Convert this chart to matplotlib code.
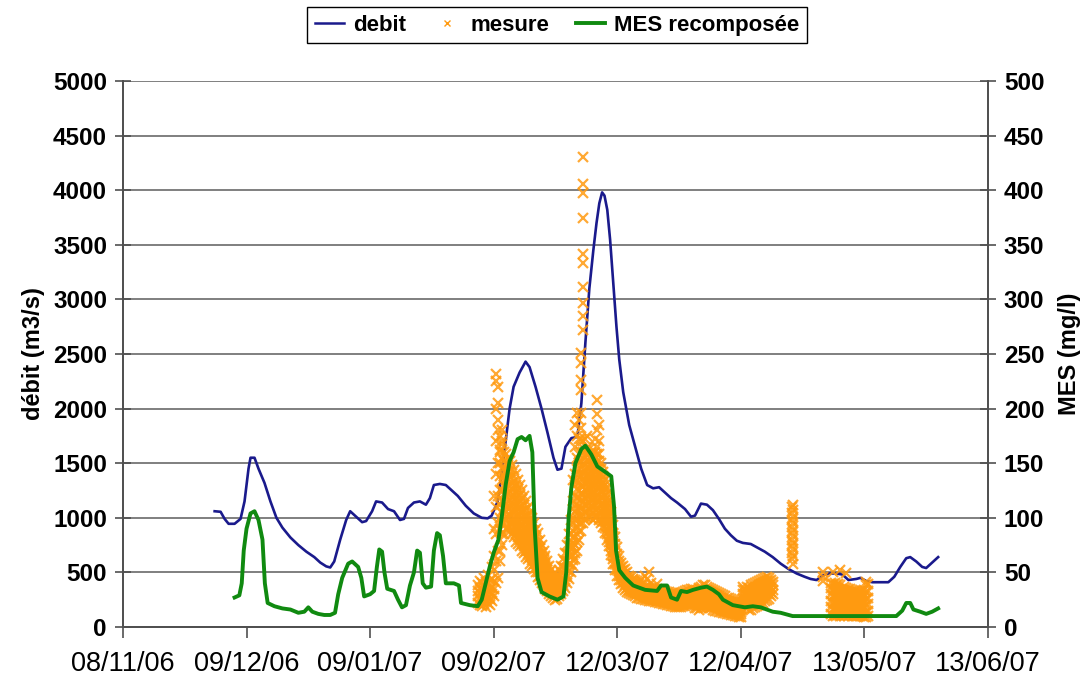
import datetime as dt
import matplotlib
matplotlib.use("Agg")
import matplotlib.pyplot as plt
import matplotlib.dates as mdates
from matplotlib.lines import Line2D

plt.rcParams['font.family'] = ['Liberation Sans', 'DejaVu Sans']

# Origin of the time axis; every series is given in days after it
debut = dt.datetime(2006, 11, 8)
tick_jours = [0, 31, 62, 93, 124, 155, 186, 217]

# Discharge (m3/s)
debit_jours = [23, 24.5, 25.5, 26.5, 28, 29.5, 30.5, 31.5, 32, 33, 34, 35.5, 37, 38.5, 40, 42, 44, 46,
               48, 49.5, 51, 52, 53, 54.5, 56, 57, 58.5, 60, 61, 62.5, 63.5, 65, 66.5, 68, 69.5, 70.5,
               71.5, 73, 74.5, 76, 77, 78, 79.5, 81, 82.5, 84, 86, 88, 90, 91.5, 92.5, 94, 95, 96, 97,
               98, 99.5, 101, 102, 103.5, 105, 106.5, 108, 109, 110, 111, 112.5, 114, 115, 116, 117,
               118, 118.8, 119.5, 120.2, 120.8, 121.5, 122.2, 123, 123.8, 124.5, 125.5, 127, 128.5,
               130, 131.5, 133, 134.5, 136, 137.5, 139, 141, 142.5, 143.5, 145, 146.5, 148, 149.5,
               151, 152.5, 154, 155.5, 157.5, 159.5, 161, 163, 165, 167, 169, 171, 172.5, 174, 175.5,
               177, 179, 180.5, 182, 184, 185, 186.5, 188, 190, 192, 193.5, 195, 196.5, 197.5, 199,
               200.5, 201.5, 203, 204.5]
debit_valeurs = [1060, 1055, 990, 945, 945, 990, 1150, 1450, 1550, 1550, 1450, 1320, 1150, 1000, 910,
                 820, 750, 690, 640, 590, 555, 545, 600, 800, 980, 1060, 1010, 960, 970, 1060, 1150,
                 1140, 1080, 1060, 980, 990, 1090, 1140, 1150, 1120, 1180, 1300, 1310, 1300, 1250,
                 1200, 1110, 1040, 1000, 995, 1020, 1150, 1400, 1700, 2000, 2200, 2330, 2430, 2380,
                 2200, 2000, 1780, 1550, 1440, 1450, 1650, 1730, 1740, 2050, 2600, 3100, 3450, 3700,
                 3880, 3980, 3950, 3820, 3550, 3150, 2750, 2450, 2150, 1850, 1650, 1450, 1300, 1270,
                 1280, 1230, 1180, 1140, 1080, 1010, 1020, 1130, 1120, 1070, 990, 900, 840, 790, 770,
                 760, 720, 690, 640, 580, 530, 490, 460, 440, 430, 470, 490, 490, 480, 430, 440, 450,
                 420, 410, 410, 410, 460, 550, 630, 640, 600, 550, 540, 590, 640]

# Reconstructed suspended matter (mg/l)
mes_jours = [28, 29.2, 29.8, 30.3, 31, 32, 33, 34, 35, 35.6, 36.3, 38, 40, 42, 44, 45.5, 46.5, 47.5, 49,
             50.5, 52, 53.2, 54, 55, 56.5, 57.5, 59, 59.8, 60.5, 62, 63, 63.7, 64.3, 65, 65.6, 66.3,
             68, 69, 70, 71, 72, 73, 73.8, 74.5, 75.2, 76, 77.3, 78, 78.8, 79.5, 80.3, 81, 83, 84.3,
             84.8, 87, 89, 90, 91, 92, 93, 94.2, 95, 96, 97, 98, 99, 100, 101, 102, 102.7, 103.3, 104,
             105, 107, 109, 110.5, 111.2, 111.8, 112.5, 113.5, 115, 116, 117.5, 119, 121, 122.5,
             123.2, 123.7, 124.5, 126, 128, 131, 134, 135, 136.5, 137.5, 139, 140, 141.5, 143, 145,
             146.5, 148, 149.5, 150.5, 153, 156, 158, 160, 161.5, 163, 165, 167, 168, 194, 195.5,
             196.5, 197.5, 198.3, 200, 201.5, 203, 204.5]
mes_valeurs = [27, 29, 40, 70, 90, 104, 106, 98, 80, 40, 22, 19, 17, 16, 13, 14, 18, 14, 12, 11, 11, 13,
               30, 45, 58, 60, 55, 45, 28, 30, 33, 55, 71, 69, 50, 35, 33, 25, 18, 20, 38, 50, 70, 68,
               40, 36, 37, 70, 86, 84, 65, 40, 40, 38, 22, 20, 19, 25, 40, 55, 68, 80, 100, 130, 152,
               160, 172, 174, 171, 175, 160, 90, 45, 32, 28, 25, 28, 50, 100, 128, 150, 163, 166, 158,
               147, 142, 138, 110, 70, 52, 45, 38, 34, 33, 38, 38, 27, 25, 33, 32, 34, 36, 37, 34, 30,
               25, 20, 18, 19, 18, 16, 14, 13, 11, 10, 10, 15, 22, 22, 16, 14, 12, 14, 17]

# Measured suspended matter (mg/l): (day, values recorded around that day)
mesure = [
    (89.0, [22, 28, 33, 38]), (89.5, [20, 26, 31, 36, 42]), (90.0, [19, 24, 29, 34, 40]),
    (90.5, [21, 27, 32, 37, 45]), (91.0, [18, 25, 30, 35, 41]), (91.5, [22, 27, 33, 39, 48]),
    (92.0, [20, 26, 31, 36, 43]), (92.5, [24, 30, 36, 44, 55]), (93.0, [28, 35, 42, 52, 65, 90, 120]),
    (93.5, [40, 60, 85, 110, 140, 170, 200, 232, 225]), (94.0, [45, 70, 95, 120, 150, 180, 205, 220, 190]),
    (94.5, [60, 70, 80, 90, 100, 112, 125, 138, 150, 162, 175, 160]),
    (95.0, [75, 85, 95, 105, 115, 125, 135, 145, 155, 168, 180, 170]),
    (95.5, [85, 93, 100, 108, 115, 122, 130, 138, 145, 152, 160]),
    (96.0, [90, 98, 105, 112, 120, 128, 135, 142, 150, 158]),
    (96.5, [92, 100, 108, 115, 122, 129, 136, 142, 148, 155]),
    (97.0, [88, 95, 102, 109, 116, 123, 130, 137, 143, 152]),
    (97.5, [85, 92, 98, 105, 112, 119, 126, 132, 138, 148]),
    (98.0, [82, 88, 95, 101, 108, 115, 121, 128, 134, 144]),
    (98.5, [78, 85, 92, 98, 105, 111, 118, 124, 130, 140]),
    (99.0, [76, 82, 89, 95, 102, 108, 114, 120, 126, 135]),
    (99.5, [74, 80, 86, 92, 98, 104, 110, 116, 121, 130]),
    (100.0, [70, 76, 82, 88, 94, 100, 106, 112, 117, 125]),
    (100.5, [68, 74, 80, 86, 91, 97, 102, 107, 112, 120]),
    (101.0, [64, 70, 76, 82, 87, 92, 97, 102, 107, 115]),
    (101.5, [62, 67, 73, 78, 83, 88, 93, 98, 102, 110]),
    (102.0, [58, 64, 69, 74, 79, 84, 89, 94, 98, 105]),
    (102.5, [56, 61, 66, 71, 75, 80, 84, 89, 93, 100]),
    (103.0, [53, 58, 62, 67, 71, 76, 80, 84, 88, 95]),
    (103.5, [50, 54, 58, 63, 67, 71, 75, 79, 83, 90]),
    (104.0, [46, 50, 54, 58, 62, 66, 70, 74, 78, 86]),
    (104.5, [43, 47, 50, 54, 58, 62, 65, 69, 72, 80]),
    (105.0, [40, 44, 47, 51, 54, 58, 61, 65, 68, 75]),
    (105.5, [38, 41, 44, 47, 50, 53, 56, 60, 63, 70]),
    (106.0, [35, 38, 41, 44, 47, 50, 53, 56, 59, 65]),
    (106.5, [33, 36, 38, 41, 44, 47, 49, 52, 55, 60]),
    (107.0, [30, 33, 35, 38, 40, 43, 45, 48, 50, 56]),
    (107.5, [28, 33, 38, 42, 47, 52]), (108.0, [27, 31, 35, 40, 44, 48]),
    (108.5, [25, 29, 33, 37, 41, 46]), (109.0, [26, 30, 34, 38, 42, 47]),
    (109.5, [28, 32, 37, 41, 46, 52]), (110.0, [30, 35, 40, 45, 50, 56]),
    (110.5, [33, 38, 44, 49, 55, 62]), (111.0, [36, 42, 48, 54, 60, 68]),
    (111.5, [40, 46, 53, 60, 67, 75]), (112.0, [44, 51, 58, 66, 74, 85]),
    (112.5, [50, 58, 66, 75, 85, 98]), (113.0, [56, 61, 66, 72, 77, 82, 88, 94, 100, 108, 115, 135]),
    (113.5, [62, 68, 75, 82, 90, 98, 105, 112, 120, 130, 140, 165, 185]),
    (114.0, [70, 78, 85, 92, 100, 108, 118, 126, 135, 145, 155, 175, 196]),
    (114.5, [80, 88, 95, 102, 110, 118, 125, 132, 140, 150, 158, 172, 190]),
    (115.0, [88, 95, 102, 109, 116, 123, 130, 138, 145, 152, 160, 172, 182, 196, 217, 226, 242, 251]),
    (115.5, [95, 102, 108, 115, 121, 128, 134, 140, 147, 154, 160, 170, 272, 285, 297, 311, 333, 342,
             375, 397, 406, 430]),
    (116.0, [98, 105, 112, 118, 125, 132, 138, 144, 150, 156, 162, 172]),
    (116.5, [100, 106, 113, 120, 126, 133, 139, 146, 152, 158, 164, 175]),
    (117.0, [102, 108, 114, 120, 127, 133, 140, 146, 152, 158, 163]),
    (117.5, [100, 106, 112, 118, 125, 131, 137, 143, 149, 155, 160]),
    (118.0, [98, 104, 110, 116, 122, 128, 134, 140, 146, 152, 158]),
    (118.5, [100, 106, 112, 118, 124, 130, 136, 142, 148, 154, 160, 172]),
    (119.0, [102, 108, 115, 121, 128, 134, 140, 146, 152, 158, 165, 180, 195, 208]),
    (119.5, [98, 104, 110, 116, 122, 128, 134, 140, 146, 152, 158, 170, 185]),
    (120.0, [95, 100, 106, 112, 118, 124, 129, 135, 140, 145, 150]),
    (120.5, [92, 97, 102, 108, 113, 118, 123, 128, 133, 138, 142]),
    (121.0, [86, 91, 96, 101, 106, 111, 116, 121, 126, 130, 135]),
    (121.5, [80, 85, 90, 95, 100, 105, 109, 114, 118, 122, 126]),
    (122.0, [74, 78, 83, 88, 92, 97, 101, 105, 109, 113, 116]),
    (122.5, [66, 70, 74, 78, 82, 86, 90, 94, 98, 105]),
    (123.0, [58, 62, 65, 69, 72, 76, 79, 83, 86, 93]),
    (123.5, [52, 58, 64, 70, 76, 82]), (124.0, [47, 52, 57, 62, 67, 73]),
    (124.5, [43, 47, 51, 56, 60, 65]), (125.0, [39, 43, 47, 51, 55, 59]),
    (125.5, [36, 40, 44, 48, 52, 56]), (126.0, [34, 38, 41, 45, 49, 53]),
    (126.5, [32, 36, 39, 43, 46, 50]), (127.0, [31, 34, 37, 41, 44, 47]),
    (127.5, [30, 33, 36, 39, 42, 46]), (128.0, [29, 32, 35, 38, 41, 44]),
    (128.5, [28, 31, 34, 37, 40, 43]), (129.0, [27, 30, 33, 36, 39, 42]),
    (129.5, [27, 30, 33, 36, 39]), (130.0, [26, 29, 32, 35, 38, 43]),
    (130.5, [26, 29, 32, 35, 38]), (131.0, [25, 28, 31, 34, 37, 47]),
    (131.5, [25, 28, 31, 34, 37, 44]), (132.0, [24, 27, 30, 33, 36, 50]),
    (132.5, [24, 27, 30, 33, 36, 40]), (133.0, [24, 27, 30, 33, 36]),
    (133.5, [23, 26, 29, 32, 35]), (134.0, [23, 26, 29, 32, 35, 39]),
    (134.5, [22, 25, 28, 31, 34]), (135.0, [22, 25, 28, 31, 34]),
    (135.5, [21, 24, 27, 30, 33]), (136.0, [21, 24, 27, 30, 33]),
    (136.5, [20, 23, 26, 29, 32]), (137.0, [20, 23, 26, 29, 32]),
    (137.5, [19, 22, 25, 28, 31]), (138.0, [19, 22, 25, 28, 31]),
    (138.5, [18, 21, 24, 27, 30]), (139.0, [18, 21, 24, 27, 30]),
    (139.5, [18, 21, 24, 27, 30]), (140.0, [18, 21, 24, 27, 31]),
    (140.5, [19, 22, 25, 28, 32]), (141.0, [19, 22, 25, 29, 33]),
    (141.5, [20, 23, 26, 30, 34]), (142.0, [20, 23, 27, 30, 34]),
    (142.5, [20, 24, 27, 31, 35]), (143.0, [21, 24, 28, 31, 35]),
    (143.5, [17, 21, 25, 29, 33]), (144.0, [17, 21, 25, 29, 33]),
    (144.5, [16, 20, 24, 28, 32, 36]), (145.0, [17, 21, 25, 29, 33, 37]),
    (145.5, [18, 22, 26, 30, 34, 38]), (146.0, [18, 22, 26, 30, 34, 38]),
    (146.5, [18, 22, 26, 30, 34, 37]), (147.0, [17, 21, 25, 29, 33, 36]),
    (147.5, [17, 21, 25, 29, 32, 35]), (148.0, [16, 20, 24, 28, 31, 34]),
    (148.5, [15, 19, 23, 27, 30, 33]), (149.0, [15, 19, 22, 26, 29, 32]),
    (149.5, [14, 18, 22, 25, 28, 31]), (150.0, [14, 17, 21, 24, 27, 30]),
    (150.5, [13, 17, 20, 23, 26, 29]), (151.0, [13, 16, 19, 22, 25, 28]),
    (151.5, [12, 15, 18, 21, 24, 27]), (152.0, [12, 15, 18, 21, 24, 27]),
    (152.5, [11, 14, 17, 20, 23, 26]), (153.0, [11, 14, 17, 20, 23, 25]),
    (153.5, [10, 13, 16, 19, 22, 24]), (154.0, [10, 13, 16, 19, 21, 23]),
    (154.5, [9, 12, 15, 18, 20, 22]), (155.0, [9, 12, 14, 17, 20]),
    (155.5, [22, 26, 30, 34, 37]), (156.0, [18, 22, 26, 30, 34]),
    (156.5, [17, 21, 25, 29, 33, 37]), (157.0, [16, 20, 24, 28, 32, 36]),
    (157.5, [16, 20, 25, 29, 33, 38]), (158.0, [17, 21, 26, 30, 35, 39]),
    (158.5, [18, 22, 27, 31, 36, 40]), (159.0, [19, 23, 28, 32, 37, 41]),
    (159.5, [20, 24, 29, 33, 38, 42]), (160.0, [21, 25, 30, 34, 39, 43]),
    (160.5, [22, 27, 31, 36, 40, 44]), (161.0, [24, 28, 33, 37, 41, 45]),
    (161.5, [25, 30, 34, 38, 42, 46]), (162.0, [26, 30, 34, 38, 42, 45]),
    (162.5, [28, 32, 36, 40, 43]), (163.0, [30, 34, 38, 41]),
    (167.8, [62, 68, 74, 80, 86, 92, 98, 104, 110]),
    (168.2, [58, 65, 71, 77, 83, 89, 95, 101, 107, 112]),
    (175.5, [42, 46, 50]), (178.0, [50]), (180.0, [52]), (181.5, [49]),
    (177.5, [12, 18, 24, 30, 36, 40]), (178.0, [10, 16, 22, 28, 34, 39]),
    (178.5, [11, 17, 23, 29, 35, 40]), (179.0, [10, 16, 22, 28, 34, 38]),
    (179.5, [11, 17, 23, 29, 35, 39]), (180.0, [10, 16, 22, 28, 33, 38]),
    (180.5, [11, 17, 23, 29, 34]), (181.0, [10, 16, 21, 27, 32, 37]),
    (181.5, [11, 16, 22, 27, 32, 36]), (182.0, [10, 15, 21, 26, 31, 35]),
    (182.5, [11, 16, 21, 26, 31, 35]), (183.0, [10, 15, 20, 25, 30, 34]),
    (183.5, [10, 15, 20, 25, 30, 33]), (184.0, [10, 15, 20, 25, 29, 33]),
    (184.5, [10, 15, 20, 25, 29, 32]), (185.0, [10, 14, 19, 24, 28, 32]),
    (185.5, [10, 14, 19, 24, 28, 33]), (186.0, [9, 13, 18, 23, 28, 34]),
    (186.5, [9, 14, 20, 26, 32, 38, 41]), (187.0, [10, 15, 21, 27, 33, 39]),
]


def jour(d):
    return debut + dt.timedelta(days=d)


mes_x = [jour(d) for d, vals in mesure for _ in vals]
mes_y = [v for _, vals in mesure for v in vals]

fig = plt.figure(figsize=(10.9, 6.79), dpi=100)
ax1 = fig.add_axes([0.1128, 0.0766, 0.7936, 0.8041])
ax2 = ax1.twinx()

bleu = '#1A1A8C'
vert = '#108A10'
orange = '#FF9A10'
gris = '#7F7F7F'

ax1.plot([jour(d) for d in debit_jours], debit_valeurs, color=bleu, lw=1.9, zorder=3)
ax2.plot(mes_x, mes_y, linestyle='none', marker='x', markersize=6.5, markeredgewidth=1.6,
         color=orange, alpha=0.85, zorder=2)
ax2.plot([jour(d) for d in mes_jours], mes_valeurs, color=vert, lw=2.8, zorder=3)

ax1.set_ylim(0, 5000)
ax2.set_ylim(0, 500)
ax1.set_yticks(range(0, 5001, 500))
ax2.set_yticks(range(0, 501, 50))
ax1.set_xlim(jour(0), jour(217))
ax1.set_xticks([jour(d) for d in tick_jours])
ax1.xaxis.set_major_formatter(mdates.DateFormatter('%d/%m/%y'))

ax1.grid(axis='y', color=gris, lw=1.4)
ax1.set_axisbelow(True)

for ax in (ax1, ax2):
    ax.spines['top'].set_visible(False)
    for s in ('left', 'right', 'bottom'):
        ax.spines[s].set_color('#505050')
        ax.spines[s].set_linewidth(1.3)

ax1.tick_params(axis='y', direction='inout', length=11, width=1.2, color='#505050',
                labelsize=17.5, pad=6)
ax2.tick_params(axis='y', direction='inout', length=11, width=1.2, color='#505050',
                labelsize=17.5, pad=6)
ax1.tick_params(axis='x', direction='out', length=8, width=1.2, color='#505050',
                labelsize=19.5, pad=9)
for lab in ax1.get_yticklabels() + ax2.get_yticklabels():
    lab.set_fontweight('bold')

ax1.set_ylabel('débit (m3/s)', fontsize=17, fontweight='bold', labelpad=6)
ax2.set_ylabel('MES (mg/l)', fontsize=17, fontweight='bold', labelpad=10)

handles = [
    Line2D([], [], color=bleu, lw=1.8),
    Line2D([], [], linestyle='none', marker='x', markersize=4, markeredgewidth=1, color=orange),
    Line2D([], [], color=vert, lw=2.8),
]
fig.legend(handles, ['debit', 'mesure', 'MES recomposée'], loc='center',
           bbox_to_anchor=(0.511, 0.963), ncol=3, frameon=True, fancybox=False,
           edgecolor='black', framealpha=1, handlelength=1.3, handletextpad=0.4,
           columnspacing=1.2, borderpad=0.35, prop={'size': 16, 'weight': 'bold'})

fig.savefig('out.png', dpi=100)
